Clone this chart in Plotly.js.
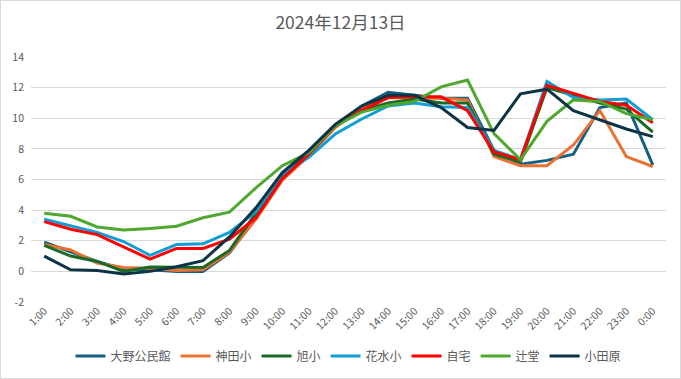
<!DOCTYPE html>
<html>
<head>
<meta charset="utf-8">
<script src="https://cdn.plot.ly/plotly-3.0.1.min.js"></script>
<style>
  html, body { margin: 0; padding: 0; background: #fff; }
  #wrap { position: relative; width: 681px; height: 379px; }
  #chart { width: 681px; height: 379px; }
  #frame { position: absolute; left: 0; top: 0; width: 681px; height: 379px; box-sizing: border-box; border: 1px solid #d9d9d9; pointer-events: none; }
</style>
</head>
<body>
<div id="wrap"><div id="chart"></div><div id="frame"></div></div>
<script>
const hours = ["1:00","2:00","3:00","4:00","5:00","6:00","7:00","8:00","9:00","10:00","11:00","12:00",
               "13:00","14:00","15:00","16:00","17:00","18:00","19:00","20:00","21:00","22:00","23:00","0:00"];
const yTickVals  = [-2, 0, 2, 4, 6, 8, 10, 12, 14];
const yTickTexts = ["-2", "0", "2", "4", "6", "8", "10", "12", "14"];

const ohno     = [1.9, 1.3, 0.65, 0.15, 0.1, 0.0, 0.0, 1.2, 3.5, 6.2, 7.8, 9.5, 10.8, 11.7, 11.5, 11.3, 11.3, 7.9, 7.0, 7.25, 7.65, 10.7, 11.0, 6.95];
const kanda    = [1.75, 1.4, 0.55, 0.25, 0.2, 0.05, 0.1, 1.25, 3.4, 5.95, 7.55, 9.4, 10.7, 11.35, 11.3, 11.3, 11.2, 7.5, 6.9, 6.9, 8.25, 10.5, 7.5, 6.85];
const asahi    = [1.7, 1.0, 0.65, 0.0, 0.28, 0.25, 0.25, 1.37, 3.8, 6.35, 7.8, 9.5, 10.5, 11.0, 11.25, 11.0, 11.0, 7.65, 7.15, 12.0, 11.5, 11.0, 10.6, 9.1];
const hanamizu = [3.4, 2.95, 2.55, 1.95, 1.05, 1.75, 1.8, 2.55, 3.9, 6.35, 7.45, 8.97, 9.95, 10.8, 11.0, 10.75, 10.7, 7.9, 7.3, 12.4, 11.35, 11.2, 11.25, 9.9];
const jitaku   = [3.25, 2.75, 2.4, 1.6, 0.8, 1.5, 1.5, 2.1, 3.5, 6.05, 7.65, 9.5, 10.5, 11.35, 11.4, 11.4, 10.5, 7.8, 7.3, 12.15, 11.6, 11.1, 10.85, 9.7];
const tsujido  = [3.8, 3.6, 2.9, 2.7, 2.8, 2.95, 3.5, 3.87, 5.45, 6.9, 7.75, 9.5, 10.4, 10.85, 11.1, 12.05, 12.5, 9.0, 7.3, 9.8, 11.2, 11.1, 10.3, 9.9];
const odawara  = [1.0, 0.1, 0.05, -0.17, 0.0, 0.3, 0.7, 2.25, 4.15, 6.45, 7.9, 9.6, 10.8, 11.5, 11.5, 10.7, 9.4, 9.2, 11.6, 11.9, 10.5, 9.9, 9.3, 8.8];

const names  = ["大野公民館", "神田小", "旭小", "花水小", "自宅", "辻堂", "小田原"];
const series = [ohno, kanda, asahi, hanamizu, jitaku, tsujido, odawara];
const colors = ["#156082", "#E97132", "#196B24", "#0F9ED5", "#FF0000", "#4EA72E", "#0C3446"];

const FONT = '"Noto Sans CJK JP", "Noto Sans", sans-serif';

const traces = series.map((ys, i) => ({
  type: "scatter",
  mode: "lines",
  name: names[i],
  x: hours,
  y: ys,
  line: { color: colors[i], width: 3 }
}));

const layout = {
  width: 681,
  height: 379,
  margin: { l: 31, r: 15, t: 57, b: 77, autoexpand: false },
  paper_bgcolor: "#ffffff",
  plot_bgcolor: "#ffffff",
  font: { family: FONT, color: "#595959", size: 10 },
  title: {
    text: "2024年12月13日",
    font: { family: FONT, size: 17.5, color: "#595959" },
    x: 0.5, xanchor: "center",
    y: 1 - 23 / 379, yanchor: "middle", yref: "container"
  },
  xaxis: {
    type: "category",
    range: [-0.5, 23.5],
    tickangle: -45,
    showgrid: false,
    showline: false,
    zeroline: false,
    ticks: "",
    tickfont: { family: FONT, size: 10.5, color: "#595959" },
    automargin: false
  },
  yaxis: {
    range: [-2, 14],
    tickmode: "array",
    tickvals: yTickVals,
    ticktext: yTickTexts,
    showgrid: true,
    gridcolor: "#d9d9d9",
    gridwidth: 1,
    zeroline: false,
    showline: false,
    ticks: "",
    ticklabelstandoff: 6,
    tickfont: { family: FONT, size: 10.5, color: "#595959" },
    automargin: false
  },
  showlegend: true,
  legend: {
    orientation: "h",
    x: 0.5, xanchor: "center",
    y: -(356 - 302) / 245, yanchor: "middle",
    font: { family: FONT, size: 12, color: "#595959" },
    itemwidth: 30,
    bgcolor: "rgba(0,0,0,0)"
  }
};

Plotly.newPlot("chart", traces, layout, { displayModeBar: false, staticPlot: true });
</script>
</body>
</html>
